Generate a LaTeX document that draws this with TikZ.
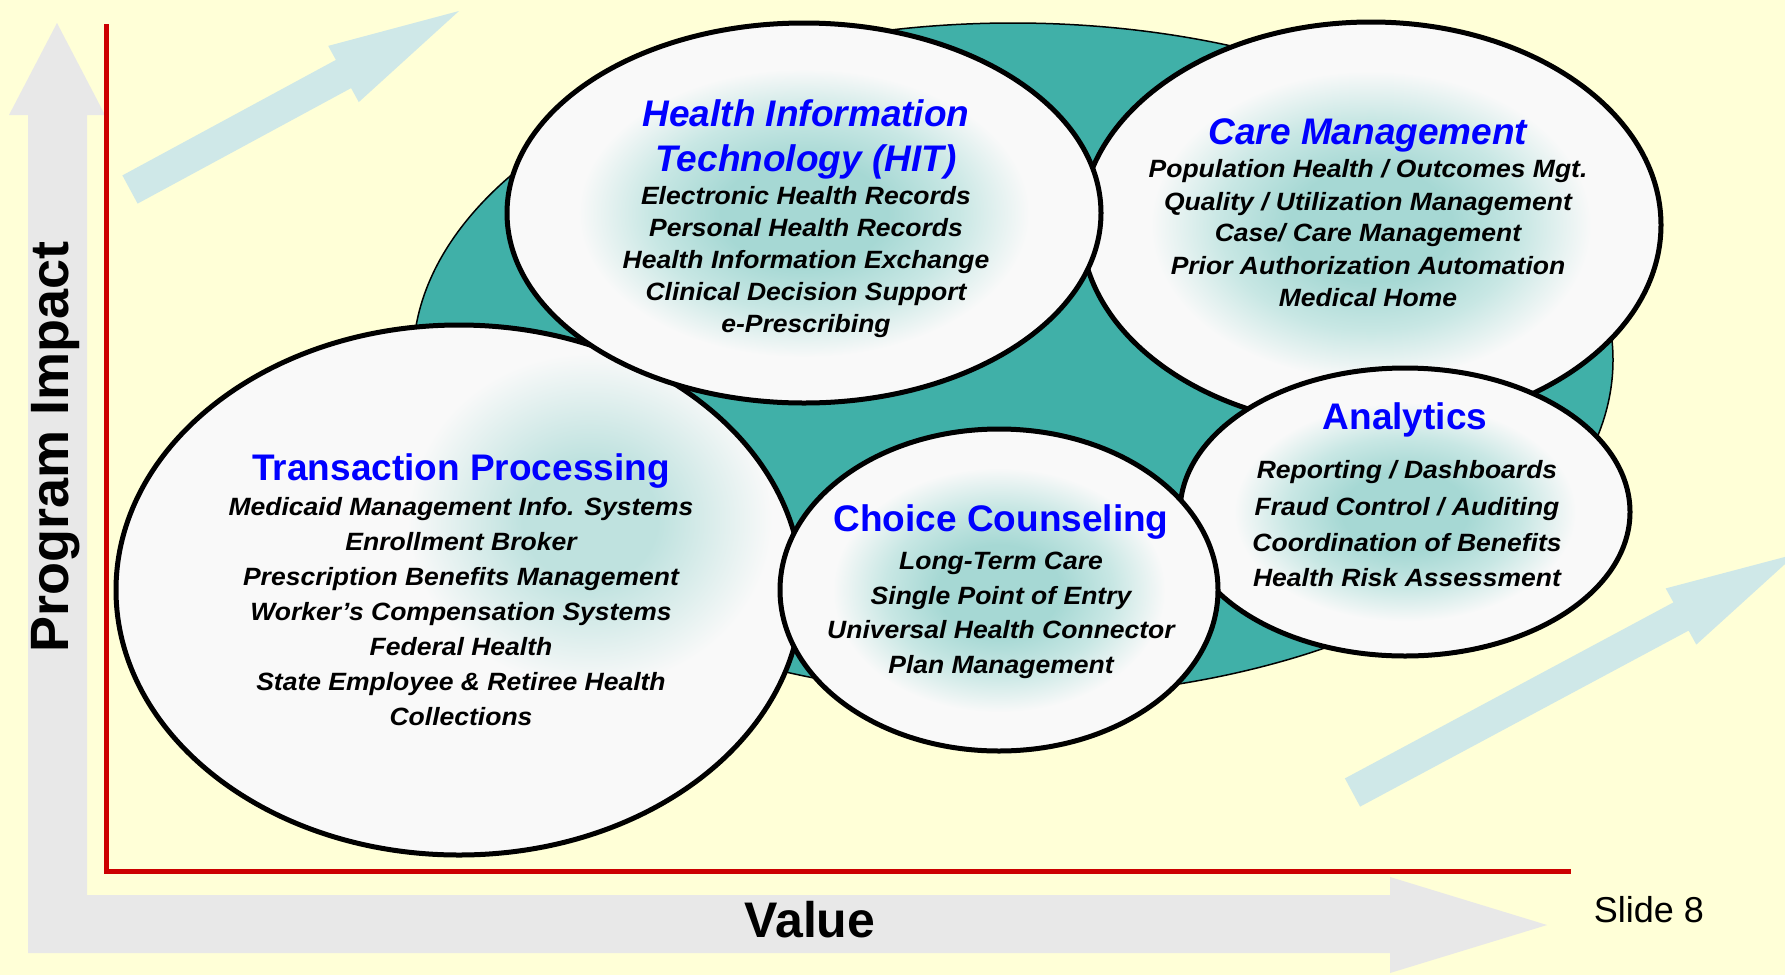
\documentclass[tikz,border=0pt]{standalone}
\usepackage{fontspec}
\setmainfont{Liberation Sans}
\newfontfamily\itemfont{Liberation Sans}[FakeStretch=1.06]
\definecolor{bgyellow}{HTML}{FFFFD7}
\definecolor{axisgray}{HTML}{E8E8E8}
\definecolor{arrowblue}{HTML}{CFE8E8}
\definecolor{tealfill}{HTML}{40B0A8}
\definecolor{axisred}{HTML}{CC0000}
\definecolor{titleblue}{HTML}{0000FF}
\definecolor{circfill}{HTML}{F9F9F9}
\definecolor{glowin}{HTML}{A6D8D4}
\definecolor{glowmid}{HTML}{C8E7E4}
\definecolor{glowsoft}{HTML}{BFE2DF}
\pgfdeclareradialshading{glow}{\pgfpoint{0bp}{0bp}}{color(0bp)=(glowin); color(7bp)=(glowin); color(13bp)=(glowmid); color(19bp)=(circfill); color(25bp)=(circfill); color(50bp)=(circfill)}
\pgfdeclareradialshading{softglow}{\pgfpoint{0bp}{0bp}}{color(0bp)=(glowsoft); color(7bp)=(glowsoft); color(19bp)=(circfill); color(25bp)=(circfill); color(50bp)=(circfill)}
\tikzset{
  ttl/.style={text=titleblue, font=\bfseries\fontsize{37}{40}\selectfont, text height=26.5pt, text depth=0pt, inner sep=0pt},
  ttli/.style={ttl, font=\bfseries\itshape\fontsize{37}{40}\selectfont},
  itm/.style={font=\itemfont\bfseries\itshape\fontsize{25}{28}\selectfont, text height=17.9pt, text depth=0pt, inner sep=0pt},
  bubble/.style={draw=black, line width=5pt, shade, shading=glow},
  bubbleline/.style={draw=black, line width=5pt},
}
\begin{document}
\begin{tikzpicture}[x=1pt,y=-1pt]
\useasboundingbox (0,0) rectangle (1785,975);
\fill[bgyellow] (0,0) rectangle (1785,975);
% grey L-shaped axis arrows
\fill[axisgray] (28,953) -- (28,115) -- (9,115) -- (57,23) -- (105,115) -- (87,115) -- (87,895)
  -- (1390,895) -- (1390,877) -- (1547,925) -- (1390,973) -- (1390,953) -- cycle;
% red axes
\draw[axisred, line width=5pt, line join=miter] (106,24) -- (106,871) -- (1571,871);
% light blue trend arrows
\fill[arrowblue] (122.4,175.4) -- (335.9,59.9) -- (328.2,45.9) -- (459,11) -- (358.8,102.1) -- (351.1,88.1) -- (137.6,203.6) -- cycle;
\fill[arrowblue] (1344.9,778.4) -- (1673.4,602.4) -- (1665.7,588.4) -- (1796.1,554) -- (1696.3,644.6) -- (1688.6,630.6) -- (1360.1,806.6) -- cycle;
% axis labels
\node[rotate=90, font=\bfseries\fontsize{54}{60}\selectfont, text height=38.7pt, text depth=0pt, inner sep=0pt] (yaxis) at (49.5,447) {Program Impact};
\node[font=\bfseries\fontsize{50}{56}\selectfont, text height=35.8pt, text depth=0pt, inner sep=0pt] (xaxis) at (810,920) {Value};
\node[font=\fontsize{36}{40}\selectfont, text height=25.8pt, text depth=0pt, inner sep=0pt] (slide) at (1649,910) {Slide 8};
% teal backdrop
\draw[fill=tealfill, line width=1.5pt] (1013,360) ellipse [x radius=600pt, y radius=337pt];
% Care Management
\path[bubble] (1371,225) ellipse [x radius=290pt, y radius=203pt];
\node[ttli] (cmT) at (1368,131) {Care Management};
\node[itm] (cm1) at (1368,169) {Population Health / Outcomes Mgt.};
\node[itm] (cm2) at (1368,201.5) {Quality / Utilization Management};
\node[itm] (cm3) at (1368,233) {Case/ Care Management};
\node[itm] (cm4) at (1368,266) {Prior Authorization Automation};
\node[itm] (cm5) at (1368,297.5) {Medical Home};
% Transaction Processing
\fill[circfill] (459,590) ellipse [x radius=343pt, y radius=265pt];
\begin{scope}
  \clip (459,590) ellipse [x radius=343pt, y radius=265pt];
  \shade[shading=softglow] (590,520) ellipse [x radius=240pt, y radius=220pt];
\end{scope}
\path[bubbleline] (459,590) ellipse [x radius=343pt, y radius=265pt];
\node[ttl] (tpT) at (461,467) {Transaction Processing};
\node[itm] (tp1) at (461,507) {Medicaid Management Info. Systems};
\node[itm] (tp2) at (461,542) {Enrollment Broker};
\node[itm] (tp3) at (461,577) {Prescription Benefits Management};
\node[itm] (tp4) at (461,612) {Worker’s Compensation Systems};
\node[itm] (tp5) at (461,647) {Federal Health};
\node[itm] (tp6) at (461,682) {State Employee \& Retiree Health};
\node[itm] (tp7) at (461,717) {Collections};
% Health Information Technology
\path[bubble] (804,213) ellipse [x radius=297pt, y radius=190pt];
\node[ttli] (hitT1) at (806,113.5) {Health Information};
\node[ttli] (hitT2) at (806,158) {Technology (HIT)};
\node[itm] (hit1) at (806,196) {Electronic Health Records};
\node[itm] (hit2) at (806,228) {Personal Health Records};
\node[itm] (hit3) at (806,260) {Health Information Exchange};
\node[itm] (hit4) at (806,292) {Clinical Decision Support};
\node[itm] (hit5) at (806,324) {e-Prescribing};
% Analytics
\path[bubble] (1405,512) ellipse [x radius=225pt, y radius=144pt];
\node[ttl] (anT) at (1405,416) {Analytics};
\node[itm] (an1) at (1407,470) {Reporting / Dashboards};
\node[itm] (an2) at (1407,507) {Fraud Control / Auditing};
\node[itm] (an3) at (1407,543) {Coordination of Benefits};
\node[itm] (an4) at (1407,578) {Health Risk Assessment};
% Choice Counseling
\path[bubble] (999,590) ellipse [x radius=219pt, y radius=161pt];
\node[ttl] (ccT) at (1001,518) {Choice Counseling};
\node[itm] (cc1) at (1001,561) {Long-Term Care};
\node[itm] (cc2) at (1001,596) {Single Point of Entry};
\node[itm] (cc3) at (1001,630) {Universal Health Connector};
\node[itm] (cc4) at (1001,665) {Plan Management};
\end{tikzpicture}
\end{document}
